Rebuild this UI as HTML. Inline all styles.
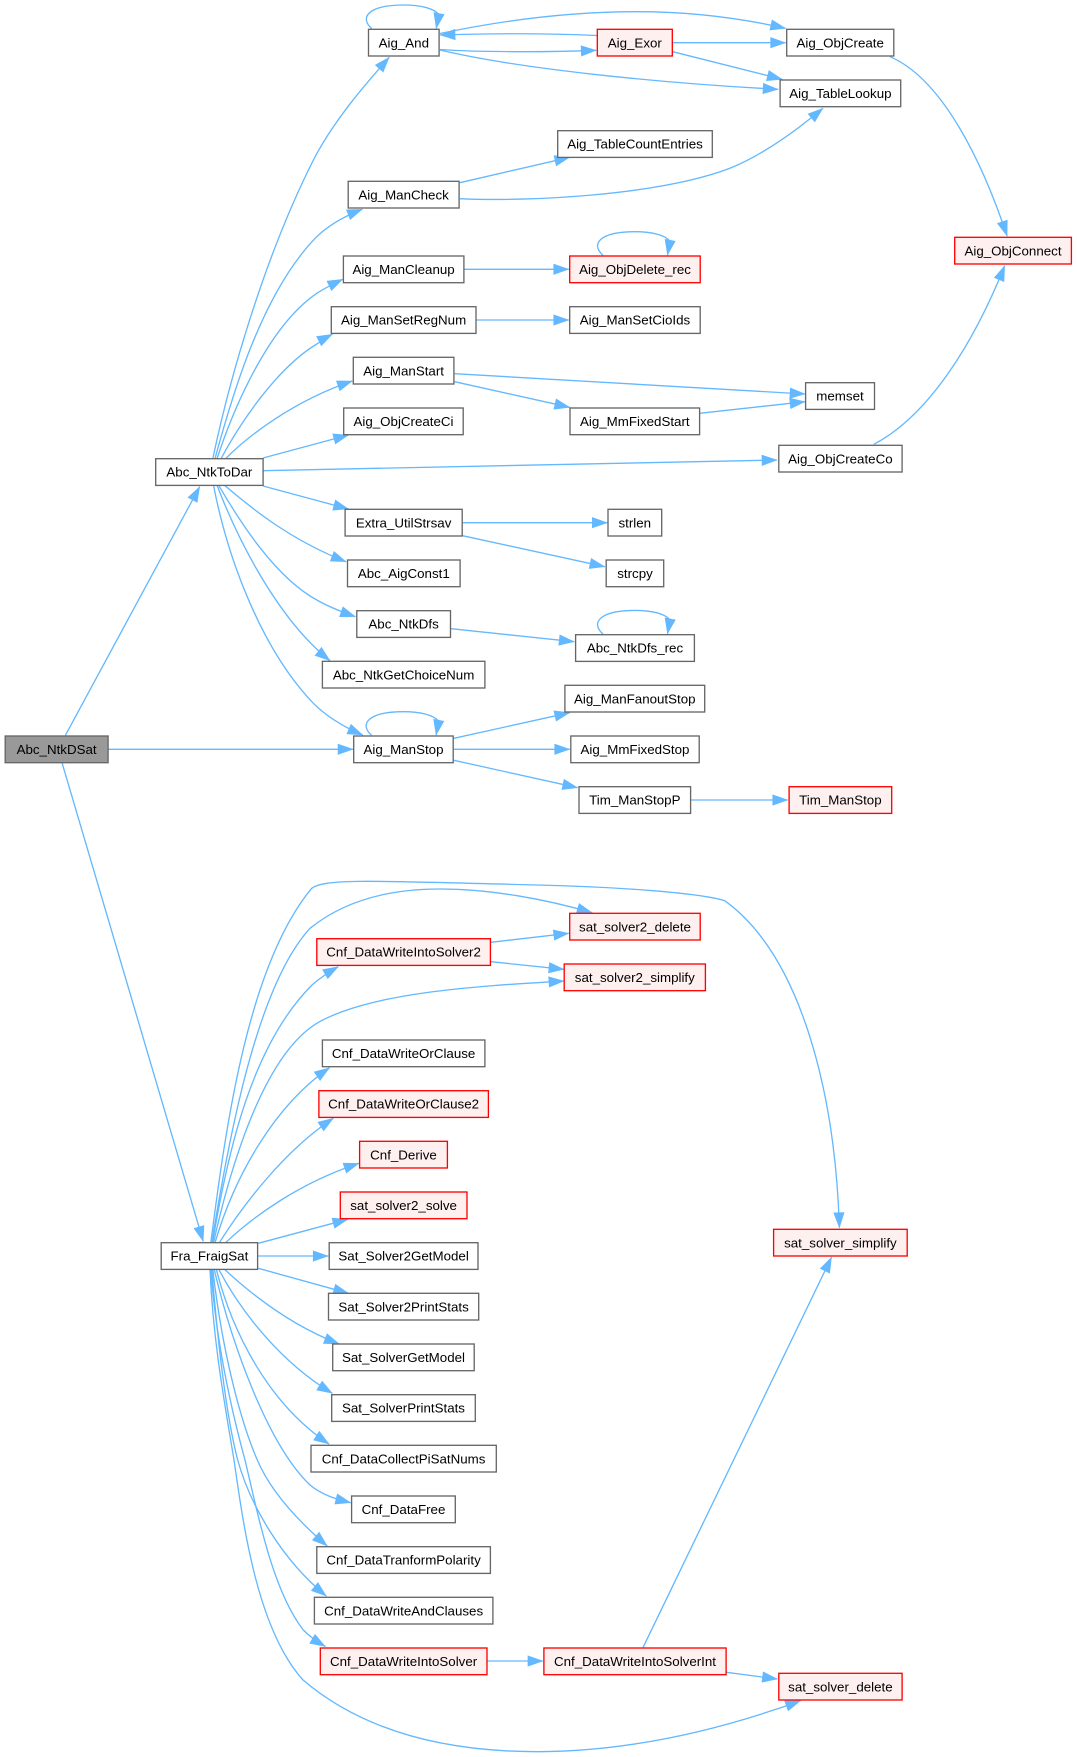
<!DOCTYPE html>
<html><head><meta charset="utf-8"><style>
html,body{margin:0;padding:0;background:#fff}
svg{display:block}
text{font-family:"Liberation Sans",Arial,sans-serif;font-size:13.33px;text-anchor:middle;fill:#000}
.n{fill:#fff;stroke:#666;stroke-width:1.33}
.r{fill:#fff0f0;stroke:#f00;stroke-width:1.33}
.g{fill:#999;stroke:#666;stroke-width:1.33}
path.e{fill:none;stroke:#63b8ff;stroke-width:1.33;marker-end:url(#a)}
</style></head><body>
<svg width="1077" height="1757" viewBox="0 0 1077 1757" xmlns="http://www.w3.org/2000/svg">
<defs><marker id="a" markerUnits="userSpaceOnUse" markerWidth="20" markerHeight="16" refX="15.3" refY="8" orient="auto" style="overflow:visible"><path d="M0.7,3.33L14,8L0.7,12.67Z" fill="#63b8ff" stroke="#63b8ff" stroke-width="1.33"/></marker></defs>
<rect width="1077" height="1757" fill="#fff"/>
<!-- edges -->
<path class="e" d="M65.4,735.3L199.7,486.7"/>
<path class="e" d="M108.5,749.3L353,749.3"/>
<path class="e" d="M62,762.7L203.2,1241.3"/>
<path class="e" d="M212.8,458.7C228,386 262,262 313.4,160C333,122 362,88 389.2,57.3"/>
<path class="e" d="M215,458.7C232,396 262,292 316.8,236.7C330,224 345,216 362.3,209.3"/>
<path class="e" d="M217,458.7C235,404 270,325 316.8,293.3C325,288 333,284 342.7,279.3"/>
<path class="e" d="M221,458.7C240,423 277,368 316.8,344C322,341 327,337 332.3,334.3"/>
<path class="e" d="M225.6,458.7C250,434 296,400 352.3,381"/>
<path class="e" d="M263.1,458L348.5,435"/>
<path class="e" d="M263.1,470.7L777,460"/>
<path class="e" d="M263.1,486L348.5,509"/>
<path class="e" d="M224.5,485.3C250,507 290,540 346.1,561.7"/>
<path class="e" d="M218.7,485.3C240,522 275,577 316.8,600C329,607 342,612 355.4,616.7"/>
<path class="e" d="M217,485.3C240,545 280,621 330,660.7"/>
<path class="e" d="M213.5,485.3C228,560 262,650 313.4,703.3C326,716 344,727 362.7,735"/>
<path class="e" transform="translate(403.8,29.3)" d="M-32,-0.7C-45,-12 -35,-24.3 0,-24.3C17,-24.3 30,-21 35,-14.8L32.5,-1"/>
<path class="e" transform="translate(635,256)" d="M-32,-0.7C-45,-12 -35,-24.3 0,-24.3C17,-24.3 30,-21 35,-14.8L32.5,-1"/>
<path class="e" transform="translate(635,634.7)" d="M-32,-0.7C-45,-12 -35,-24.3 0,-24.3C17,-24.3 30,-21 35,-14.8L32.5,-1"/>
<path class="e" transform="translate(403.6,736)" d="M-32,-0.7C-45,-12 -35,-24.3 0,-24.3C17,-24.3 30,-21 35,-14.8L32.5,-1"/>
<path class="e" d="M440,49.5C475,52 545,52.5 596.2,50.3"/>
<path class="e" d="M597.3,35.5C545,33 495,33.3 440.1,35"/>
<path class="e" d="M440,33.5C490,23 560,11.7 637,11.7C690,11.7 740,18 785.6,28.3"/>
<path class="e" d="M440,50C520,69 660,83 778.1,89.3"/>
<path class="e" d="M672.7,42.7L785.6,42.7"/>
<path class="e" d="M672.7,51.7L782.2,79.3"/>
<path class="e" d="M890,56.7C940,78 980,155 1007.1,236"/>
<path class="e" d="M459.8,182.7L569.7,157.3"/>
<path class="e" d="M459.8,198.7C530,202 660,195 729.9,168.3C765,154 797,130 822.9,108.3"/>
<path class="e" d="M464.5,269.3L568.7,269.3"/>
<path class="e" d="M476.5,320L568.7,320"/>
<path class="e" d="M454.6,373.7L805,394"/>
<path class="e" d="M454.6,381.7L569.7,407.3"/>
<path class="e" d="M699.6,413.3L805,401.7"/>
<path class="e" d="M873.8,444.3C930,415 975,340 1004.7,265.7"/>
<path class="e" d="M462.8,522.7L607.3,522.7"/>
<path class="e" d="M462.5,535.7L604.8,566.7"/>
<path class="e" d="M451.1,628.7L574.2,641.7"/>
<path class="e" d="M453.9,738.3L569.7,712.7"/>
<path class="e" d="M453.9,749.3L569.7,749.3"/>
<path class="e" d="M453.9,760.3L577.6,787.7"/>
<path class="e" d="M691,800L787.7,800"/>
<path class="e" d="M210.8,1242.7C226,1125 248,965 311.7,888.3C325,878 380,881 537,885C620,887 700,893 724.7,900.7C800,955 835,1090 839.4,1227.7"/>
<path class="e" d="M211.8,1242.7C230,1130 258,985 310,928.3C350,896 400,889 440,889C490,889 545,899 592.1,912.7"/>
<path class="e" d="M212.5,1242.7C228,1150 252,1045 312,985C320,978 329,972 338.2,966.7"/>
<path class="e" d="M213.5,1242.7C232,1160 265,1055 316.8,1023.3C370,992 480,986 563.9,981"/>
<path class="e" d="M215,1242.7C235,1175 275,1105 329.5,1067.8"/>
<path class="e" d="M219.3,1242.7C243,1205 285,1150 333.3,1118.3"/>
<path class="e" d="M225.6,1242.7C255,1215 300,1183 358.9,1163.3"/>
<path class="e" d="M258.3,1243.3L347.8,1219.3"/>
<path class="e" d="M258,1256L328.2,1256"/>
<path class="e" d="M258.3,1268.3L348.5,1293.3"/>
<path class="e" d="M224.5,1269.3C250,1293 290,1325 339.2,1344"/>
<path class="e" d="M218.7,1269.3C240,1310 280,1362 332.3,1393.3"/>
<path class="e" d="M216.3,1269.3C233,1335 270,1405 329,1444"/>
<path class="e" d="M214.2,1269.3C232,1345 268,1445 310,1485C322,1495 336,1499 350.6,1502.7"/>
<path class="e" d="M212.8,1269.3C222,1350 240,1420 257.3,1460C270,1490 297,1520 327.2,1546"/>
<path class="e" d="M211.8,1269.3C218,1345 226,1415 237.7,1460C250,1505 282,1560 326.3,1596"/>
<path class="e" d="M210.8,1269.3C216,1340 230,1405 245,1460C257,1510 272,1590 303.3,1630C309,1636 316,1641 325.3,1646.5"/>
<path class="e" d="M210,1269.3C213,1340 224,1400 234,1460C244,1530 258,1630 303,1680C370,1737 460,1752 540,1751.7C630,1751 720,1730 800.5,1700.7"/>
<path class="e" d="M490.8,942.3L568.7,933.3"/>
<path class="e" d="M490.8,961.7L563.9,969.3"/>
<path class="e" d="M487.3,1661L542.9,1661"/>
<path class="e" d="M643.1,1647.3L831.5,1257.3"/>
<path class="e" d="M726.4,1672.3L777.4,1679"/>
<!-- nodes -->
<rect class="g" x="5.2" y="736" width="102.9" height="26.7"/><text x="56.6" y="754">Abc_NtkDSat</text>
<rect class="n" x="155.7" y="458.7" width="107.4" height="26.7"/><text x="209.4" y="476.7">Abc_NtkToDar</text>
<rect class="n" x="161.2" y="1242.7" width="96.4" height="26.7"/><text x="209.4" y="1260.7">Fra_FraigSat</text>
<rect class="n" x="368.5" y="29.3" width="70.6" height="26.7"/><text x="403.8" y="47.3">Aig_And</text>
<rect class="r" x="597.3" y="29.3" width="75" height="26.7"/><text x="634.8" y="47.3">Aig_Exor</text>
<rect class="n" x="786.7" y="29.3" width="107.1" height="26.7"/><text x="840.2" y="47.3">Aig_ObjCreate</text>
<rect class="n" x="780.1" y="80" width="120.6" height="26.7"/><text x="840.4" y="98">Aig_TableLookup</text>
<rect class="n" x="557.7" y="130.7" width="154.6" height="26.7"/><text x="635" y="148.7">Aig_TableCountEntries</text>
<rect class="n" x="348.2" y="181.3" width="110.9" height="26.7"/><text x="403.6" y="199.3">Aig_ManCheck</text>
<rect class="r" x="954.7" y="237.3" width="116.7" height="26.7"/><text x="1013" y="255.3">Aig_ObjConnect</text>
<rect class="n" x="343.4" y="256" width="120.5" height="26.7"/><text x="403.6" y="274">Aig_ManCleanup</text>
<rect class="r" x="569.7" y="256" width="130.5" height="26.7"/><text x="635" y="274">Aig_ObjDelete_rec</text>
<rect class="n" x="331.3" y="306.7" width="144.7" height="26.7"/><text x="403.6" y="324.7">Aig_ManSetRegNum</text>
<rect class="n" x="569.7" y="306.7" width="130.5" height="26.7"/><text x="635" y="324.7">Aig_ManSetCioIds</text>
<rect class="n" x="353.3" y="357.3" width="100.6" height="26.7"/><text x="403.6" y="375.3">Aig_ManStart</text>
<rect class="n" x="805.6" y="382.7" width="68.9" height="26.7"/><text x="840" y="400.7">memset</text>
<rect class="n" x="343.7" y="408" width="119.5" height="26.7"/><text x="403.5" y="426">Aig_ObjCreateCi</text>
<rect class="n" x="570" y="408" width="129.6" height="26.7"/><text x="634.8" y="426">Aig_MmFixedStart</text>
<rect class="n" x="778.8" y="445.3" width="123.3" height="26.7"/><text x="840.4" y="463.3">Aig_ObjCreateCo</text>
<rect class="n" x="345.1" y="509.3" width="117.1" height="26.7"/><text x="403.6" y="527.3">Extra_UtilStrsav</text>
<rect class="n" x="608" y="509.3" width="53.7" height="26.7"/><text x="634.8" y="527.3">strlen</text>
<rect class="n" x="347.5" y="560" width="112.6" height="26.7"/><text x="403.8" y="578">Abc_AigConst1</text>
<rect class="n" x="606.2" y="560" width="57.5" height="26.7"/><text x="635" y="578">strcpy</text>
<rect class="n" x="356.8" y="610.7" width="93.7" height="26.7"/><text x="403.6" y="628.7">Abc_NtkDfs</text>
<rect class="n" x="575.6" y="634.7" width="118.8" height="26.7"/><text x="635" y="652.7">Abc_NtkDfs_rec</text>
<rect class="n" x="322.4" y="661.3" width="162.5" height="26.7"/><text x="403.6" y="679.3">Abc_NtkGetChoiceNum</text>
<rect class="n" x="564.9" y="685.3" width="139.8" height="26.7"/><text x="634.8" y="703.3">Aig_ManFanoutStop</text>
<rect class="n" x="353.7" y="736" width="99.5" height="26.7"/><text x="403.5" y="754">Aig_ManStop</text>
<rect class="n" x="570.8" y="736" width="128.4" height="26.7"/><text x="635" y="754">Aig_MmFixedStop</text>
<rect class="n" x="579" y="786.7" width="111.6" height="26.7"/><text x="634.8" y="804.7">Tim_ManStopP</text>
<rect class="r" x="789.1" y="786.7" width="102.6" height="26.7"/><text x="840.4" y="804.7">Tim_ManStop</text>
<rect class="r" x="569.7" y="913.3" width="130.5" height="26.7"/><text x="635" y="931.3">sat_solver2_delete</text>
<rect class="r" x="316.8" y="938.7" width="173.6" height="26.7"/><text x="403.6" y="956.7">Cnf_DataWriteIntoSolver2</text>
<rect class="r" x="564.2" y="964" width="141.2" height="26.7"/><text x="634.8" y="982">sat_solver2_simplify</text>
<rect class="n" x="322.4" y="1040" width="162.5" height="26.7"/><text x="403.6" y="1058">Cnf_DataWriteOrClause</text>
<rect class="r" x="318.9" y="1090.7" width="169.5" height="26.7"/><text x="403.6" y="1108.7">Cnf_DataWriteOrClause2</text>
<rect class="r" x="359.6" y="1141.3" width="87.8" height="26.7"/><text x="403.5" y="1159.3">Cnf_Derive</text>
<rect class="r" x="340.3" y="1192" width="126.7" height="26.7"/><text x="403.6" y="1210">sat_solver2_solve</text>
<rect class="r" x="773.6" y="1229.3" width="133.6" height="26.7"/><text x="840.4" y="1247.3">sat_solver_simplify</text>
<rect class="n" x="329.2" y="1242.7" width="148.8" height="26.7"/><text x="403.6" y="1260.7">Sat_Solver2GetModel</text>
<rect class="n" x="328.5" y="1293.3" width="150.2" height="26.7"/><text x="403.6" y="1311.3">Sat_Solver2PrintStats</text>
<rect class="n" x="332.7" y="1344" width="141.5" height="26.7"/><text x="403.5" y="1362">Sat_SolverGetModel</text>
<rect class="n" x="331.7" y="1394.7" width="143.6" height="26.7"/><text x="403.5" y="1412.7">Sat_SolverPrintStats</text>
<rect class="n" x="311" y="1445.3" width="185.3" height="26.7"/><text x="403.6" y="1463.3">Cnf_DataCollectPiSatNums</text>
<rect class="n" x="351.6" y="1496" width="103.7" height="26.7"/><text x="403.5" y="1514">Cnf_DataFree</text>
<rect class="n" x="316.8" y="1546.7" width="173.6" height="26.7"/><text x="403.6" y="1564.7">Cnf_DataTranformPolarity</text>
<rect class="n" x="314.4" y="1597.3" width="178.5" height="26.7"/><text x="403.6" y="1615.3">Cnf_DataWriteAndClauses</text>
<rect class="r" x="320.3" y="1648" width="166.7" height="26.7"/><text x="403.6" y="1666">Cnf_DataWriteIntoSolver</text>
<rect class="r" x="543.9" y="1648" width="182.2" height="26.7"/><text x="635" y="1666">Cnf_DataWriteIntoSolverInt</text>
<rect class="r" x="778.8" y="1673.3" width="123.3" height="26.7"/><text x="840.4" y="1691.3">sat_solver_delete</text>
</svg>
</body></html>
